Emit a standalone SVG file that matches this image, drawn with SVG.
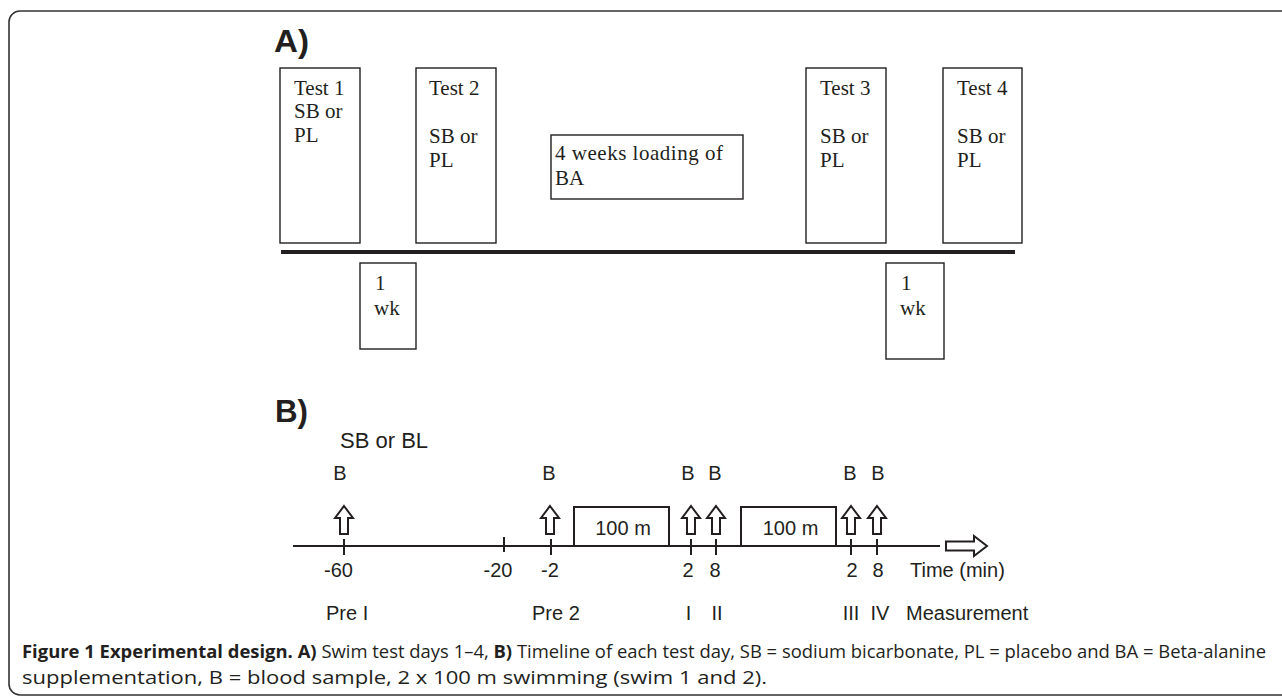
<svg xmlns="http://www.w3.org/2000/svg" width="1282" height="696" viewBox="0 0 1282 696">
<style>
.frame{fill:none;stroke:#333;stroke-width:1.6}
.box{fill:#fff;stroke:#231f20;stroke-width:1.4}
.serif{font-family:"Liberation Serif","Times New Roman",serif;font-size:21px;fill:#231f20}
.sans{font-family:"Liberation Sans",Arial,sans-serif;font-size:20px;fill:#231f20}
.lbl{font-family:"Liberation Sans",Arial,sans-serif;font-size:32px;font-weight:bold;fill:#231f20}
.cap{font-family:"Open Sans","Noto Sans",sans-serif;font-size:17.5px;fill:#231f20}
.line{stroke:#231f20;stroke-width:2;fill:none}
.arr{fill:#fff;stroke:#231f20;stroke-width:2;stroke-linejoin:miter}
.swim{fill:#fff;stroke:#231f20;stroke-width:2}
</style>
<defs>
<path id="up" d="M0,0 L9,12 L4,12 L4,28 L-4,28 L-4,12 L-9,12 Z"/>
</defs>
<rect width="1282" height="696" fill="#fff"/>
<path class="frame" d="M1290,11 H20 A11,11 0 0 0 9,22 V684 A11,11 0 0 0 20,695 H1290"/>

<text class="lbl" x="274" y="52" textLength="35" lengthAdjust="spacingAndGlyphs">A)</text>

<g id="test1">
<rect class="box" x="280" y="68" width="80" height="175"/>
<text class="serif" x="294" y="95">Test 1</text>
<text class="serif" x="294" y="118">SB or</text>
<text class="serif" x="294" y="142">PL</text>
</g>
<g id="test2">
<rect class="box" x="416" y="68" width="80" height="175"/>
<text class="serif" x="429" y="95">Test 2</text>
<text class="serif" x="429" y="143">SB or</text>
<text class="serif" x="429" y="167">PL</text>
</g>
<g id="loading">
<rect class="box" x="551" y="135" width="192" height="64"/>
<text class="serif" x="555" y="160" textLength="168" lengthAdjust="spacing">4 weeks loading of</text>
<text class="serif" x="555" y="185">BA</text>
</g>
<g id="test3">
<rect class="box" x="806" y="68" width="80" height="175"/>
<text class="serif" x="820" y="95">Test 3</text>
<text class="serif" x="820" y="143">SB or</text>
<text class="serif" x="820" y="167">PL</text>
</g>
<g id="test4">
<rect class="box" x="943" y="68" width="79" height="175"/>
<text class="serif" x="957" y="95">Test 4</text>
<text class="serif" x="957" y="143">SB or</text>
<text class="serif" x="957" y="167">PL</text>
</g>
<g id="week1">
<rect class="box" x="360" y="263" width="56" height="86"/>
<text class="serif" x="375" y="290">1</text>
<text class="serif" x="374" y="315">wk</text>
</g>
<g id="week2">
<rect class="box" x="886" y="263" width="58" height="96"/>
<text class="serif" x="901" y="290">1</text>
<text class="serif" x="900" y="315">wk</text>
</g>

<g id="connectors">
<line x1="281" y1="252" x2="1015" y2="252" stroke="#231f20" stroke-width="4.2"/>
<line class="line" x1="293" y1="546" x2="940" y2="546"/>
<g class="line">
<line x1="344" y1="539" x2="344" y2="555"/>
<line x1="504" y1="537" x2="504" y2="552"/>
<line x1="551" y1="539" x2="551" y2="555"/>
<line x1="691" y1="539" x2="691" y2="555"/>
<line x1="716" y1="539" x2="716" y2="555"/>
<line x1="851" y1="539" x2="851" y2="555"/>
<line x1="877" y1="539" x2="877" y2="555"/>
</g>
<use href="#up" class="arr" x="344" y="506"/>
<use href="#up" class="arr" x="550" y="506"/>
<use href="#up" class="arr" x="691" y="506"/>
<use href="#up" class="arr" x="716" y="506"/>
<use href="#up" class="arr" x="851" y="506"/>
<use href="#up" class="arr" x="877" y="506"/>
<path class="arr" d="M946,541.5 H974 V536 L987,546 L974,556 V550.5 H946 Z"/>
</g>

<text class="lbl" x="275" y="422" textLength="33" lengthAdjust="spacingAndGlyphs">B)</text>
<text class="sans" x="340" y="448" style="font-size:22px">SB or BL</text>

<g id="swim1">
<rect class="swim" x="574" y="507" width="95" height="39"/>
<text class="sans" x="623" y="535" text-anchor="middle">100 m</text>
</g>
<g id="swim2">
<rect class="swim" x="741" y="507" width="95" height="39"/>
<text class="sans" x="790.5" y="535" text-anchor="middle">100 m</text>
</g>

<g class="sans" text-anchor="middle">
<text x="340" y="480">B</text>
<text x="549" y="480">B</text>
<text x="688" y="480">B</text>
<text x="715" y="480">B</text>
<text x="850" y="480">B</text>
<text x="878" y="480">B</text>
<text x="338.5" y="577">-60</text>
<text x="498" y="577">-20</text>
<text x="550" y="577">-2</text>
<text x="688" y="577">2</text>
<text x="715" y="577">8</text>
<text x="852" y="577">2</text>
<text x="878" y="577">8</text>
<text x="688.5" y="620">I</text>
<text x="717" y="620">II</text>
<text x="851" y="620">III</text>
<text x="880" y="620">IV</text>
</g>
<text class="sans" x="910" y="577">Time (min)</text>
<text class="sans" x="326" y="620">Pre I</text>
<text class="sans" x="532" y="620">Pre 2</text>
<text class="sans" x="906" y="620">Measurement</text>

<text class="cap" x="22" y="658" textLength="1244" lengthAdjust="spacingAndGlyphs"><tspan font-weight="bold">Figure 1 Experimental design. A)</tspan> Swim test days 1–4, <tspan font-weight="bold">B)</tspan> Timeline of each test day, SB = sodium bicarbonate, PL = placebo and BA = Beta-alanine</text>
<text class="cap" x="22" y="684" textLength="745" lengthAdjust="spacingAndGlyphs">supplementation, B = blood sample, 2 x 100 m swimming (swim 1 and 2).</text>
</svg>
